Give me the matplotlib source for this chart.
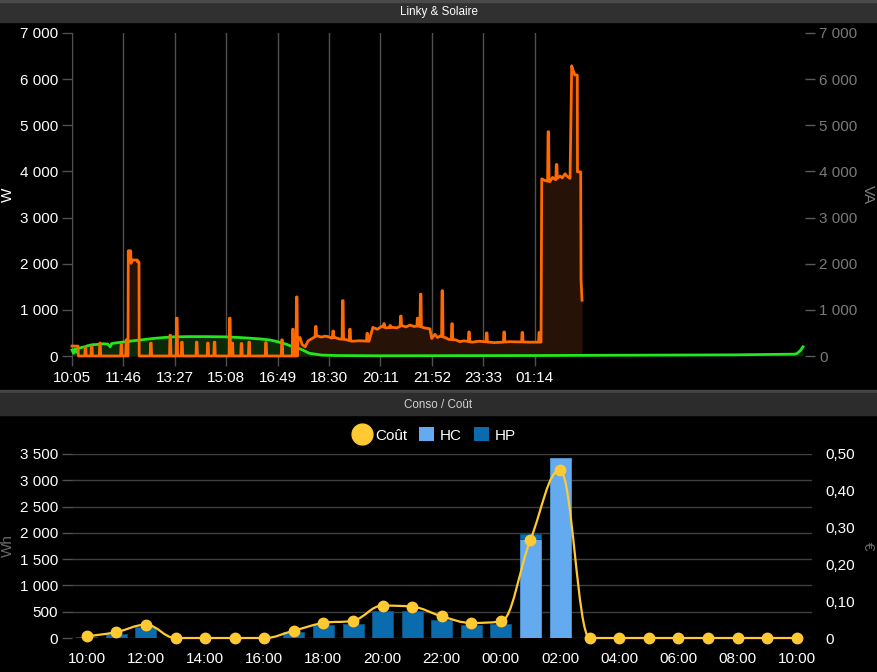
import numpy as np
import matplotlib
matplotlib.use('Agg')
import matplotlib.pyplot as plt
from matplotlib.path import Path
from matplotlib.patches import PathPatch, Rectangle, Patch
from matplotlib.lines import Line2D

plt.rcParams['font.family'] = ['Liberation Sans', 'DejaVu Sans']

# ---------------- Linky & Solaire (minutes after 10:05) ----------------
conso_t = [0, 12, 12.5, 110, 110.5, 115.3, 116, 119, 128.3, 128.5,
           131.6, 132, 443, 444, 448, 452, 458, 464, 471.5, 481,
           490, 497, 503, 510, 517, 525, 536, 550, 565, 583.5,
           591, 600, 608, 617, 630, 638, 648, 656, 664, 672,
           680, 692, 703, 706.7, 713, 718, 723, 733, 740, 754,
           762, 770, 786, 800, 830, 860, 900, 921.4, 922.8, 930,
           939, 944, 950, 959, 963, 968.6, 972, 978.4, 981.7, 984,
           988, 992.7, 993, 999.4, 1000, 1002]
conso_w = [215, 215, 0, 0, 2280, 2280, 2010, 2080, 2080, 2040,
           2040, 0, 0, 380, 400, 250, 200, 330, 380, 440,
           410, 430, 420, 390, 400, 370, 360, 320, 330, 320,
           620, 580, 640, 610, 620, 610, 660, 630, 670, 640,
           650, 610, 590, 380, 470, 400, 430, 400, 360, 350,
           310, 330, 300, 320, 290, 310, 300, 300, 3840, 3800,
           3780, 3870, 3820, 3900, 3860, 3950, 3900, 3850, 6290, 6200,
           6090, 6090, 3990, 3990, 1650, 1210]

# short peaks on top of the consumption curve
pic_t = [26.5, 38.7, 55, 97, 107, 155, 193, 206, 216, 245, 267, 280, 310, 315,
         333, 348, 381, 412.6, 434, 441.5, 479, 513, 532, 546, 580, 613, 625,
         646, 679, 685, 727.5, 746.6, 780, 814.7, 849, 884.7, 918, 935.8, 952]
pic_w = [180, 215, 280, 250, 350, 280, 450, 820, 300, 300, 280, 300, 820, 280,
         270, 300, 290, 350, 580, 1280, 640, 540, 1200, 580, 490, 700, 660,
         865, 820, 1340, 1415, 700, 520, 500, 520, 510, 510, 4860, 4150]

solaire_t = [0, 3, 5, 8, 10, 15, 20, 26, 30, 40, 50, 60, 70, 75, 78, 90, 107,
             120, 140, 160, 180, 200, 230, 260, 300, 330, 350, 370, 390, 400,
             410, 420, 430, 440, 453, 466, 490, 520, 600, 900, 1300, 1420,
             1425, 1431, 1436]
solaire_w = [130, 60, 150, 80, 160, 170, 190, 200, 220, 245, 250, 265, 260,
             200, 270, 290, 310, 330, 355, 380, 400, 415, 420, 420, 415, 400,
             385, 370, 345, 320, 290, 260, 215, 190, 130, 60, 20, 10, 5, 10,
             25, 40, 60, 120, 200]

top_ticks = ['10:05', '11:46', '13:27', '15:08', '16:49', '18:30', '20:11',
             '21:52', '23:33', '01:14']

# ---------------- Conso / Coût (one value per hour) ----------------
heures = ['10:00', '11:00', '12:00', '13:00', '14:00', '15:00', '16:00',
          '17:00', '18:00', '19:00', '20:00', '21:00', '22:00', '23:00',
          '00:00', '01:00', '02:00', '03:00', '04:00', '05:00', '06:00',
          '07:00', '08:00', '09:00', '10:00']
hc = [0, 0, 0, 0, 0, 0, 0, 0, 0, 0, 0, 0, 0, 0, 0, 1890, 3420,
      0, 0, 0, 0, 0, 0, 0, 0]
hp = [10, 80, 210, 0, 0, 0, 0, 108, 240, 272, 520, 515, 350, 253, 266, 95, 0,
      0, 0, 0, 0, 0, 0, 0, 0]
cout = [0.0046, 0.016, 0.036, 0, 0, 0, 0, 0.020, 0.041, 0.047, 0.088, 0.085,
        0.059, 0.041, 0.045, 0.267, 0.456, 0, 0, 0, 0, 0, 0, 0, 0]

ORANGE = '#ff6a00'
GREEN = '#22e61e'
HC_COL = '#63aaee'
HP_COL = '#0a6bad'
YELLOW = '#ffc933'
GRIDC = '#505050'
W, H = 877, 672


def fx(px):
    return px / W


def fy(py):
    return 1 - py / H


def spline_path(xs, ys, smoothing=1.5):
    # cubic spline the way Highcharts draws it
    n = len(xs)
    lc = [(x, y) for x, y in zip(xs, ys)]
    rc = [(x, y) for x, y in zip(xs, ys)]
    d = smoothing + 1
    for i in range(1, n - 1):
        x, y = xs[i], ys[i]
        x0, y0, x1, y1 = xs[i-1], ys[i-1], xs[i+1], ys[i+1]
        lx = (smoothing*x + x0)/d
        ly = (smoothing*y + y0)/d
        rx = (smoothing*x + x1)/d
        ry = (smoothing*y + y1)/d
        if rx != lx:
            corr = ((ry - ly)*(rx - x))/(rx - lx) + y - ry
            ly += corr
            ry += corr
        if ly > y0 and ly > y:
            ly = max(y0, y); ry = 2*y - ly
        elif ly < y0 and ly < y:
            ly = min(y0, y); ry = 2*y - ly
        if ry > y1 and ry > y:
            ry = max(y1, y); ly = 2*y - ry
        elif ry < y1 and ry < y:
            ry = min(y1, y); ly = 2*y - ry
        lc[i] = (lx, ly)
        rc[i] = (rx, ry)
    verts = [(xs[0], ys[0])]
    codes = [Path.MOVETO]
    for i in range(1, n):
        verts += [rc[i-1], lc[i], (xs[i], ys[i])]
        codes += [Path.CURVE4]*3
    return Path(verts, codes)


fig = plt.figure(figsize=(W/100, H/100), dpi=100, facecolor='black')

# title bars
fig.add_artist(Rectangle((0, fy(22)), 1, 22/H, transform=fig.transFigure,
                         color='#303030', zorder=0))
fig.add_artist(Rectangle((0, fy(1.5)), 1, 1.5/H, transform=fig.transFigure,
                         color='#4a4a4a', zorder=0))
fig.add_artist(Rectangle((0, fy(393)), 1, 3/H, transform=fig.transFigure,
                         color='#454545', zorder=0))
fig.add_artist(Rectangle((0, fy(415)), 1, 22/H, transform=fig.transFigure,
                         color='#2c2c2c', zorder=0))
fig.text(0.5, fy(12), 'Linky & Solaire', color='white', fontsize=8.4,
         ha='center', va='center')
fig.text(0.5, fy(405), 'Conso / Coût', color='#d0d0d0', fontsize=8.4,
         ha='center', va='center')

# ---------------- top chart ----------------
ax1 = fig.add_axes([fx(72), fy(356), fx(733), 323/H])
ax1.set_facecolor('black')
ax1.set_xlim(0, 1440)
ax1.set_ylim(0, 7000)

t_all = list(conso_t)
w_all = list(conso_w)
for t, w in zip(pic_t, pic_w):
    b0 = np.interp(t - 1.4, conso_t, conso_w)
    b1 = np.interp(t + 1.4, conso_t, conso_w)
    t_all += [t - 1.4, t - 0.6, t + 0.6, t + 1.4]
    w_all += [b0, w, w, b1]
order = np.argsort(t_all, kind='stable')
t_all = np.array(t_all)[order]
w_all = np.array(w_all)[order]

ax1.fill_between(t_all, 0, w_all, color='#271207', lw=0, zorder=1)
ax1.fill_between(solaire_t, 0, solaire_w, color='#0a2a0a', lw=0, zorder=2)
ax1.plot(solaire_t, solaire_w, color=GREEN, lw=2.0, zorder=3, clip_on=False)
ax1.plot(t_all, w_all, color=ORANGE, lw=2.0, zorder=4, clip_on=False)

ax1.set_xticks(np.arange(len(top_ticks)) * 101)
ax1.set_xticklabels(top_ticks)
ax1.grid(axis='x', color=GRIDC, lw=1)
ax1.set_axisbelow(True)
ax1.tick_params(axis='x', colors=GRIDC, length=7.5, width=1, labelcolor='white',
                labelsize=11, pad=3)
ax1.set_yticks(np.arange(0, 7001, 1000))
ax1.set_yticklabels([f'{v:,}'.replace(',', ' ') for v in range(0, 7001, 1000)])
ax1.tick_params(axis='y', colors=GRIDC, length=7, width=1, labelcolor='white',
                labelsize=11, pad=3)
for s in ['top', 'right', 'bottom']:
    ax1.spines[s].set_visible(False)
ax1.spines['left'].set_color(GRIDC)

ax1r = ax1.twinx()
ax1r.set_ylim(0, 7000)
ax1r.set_yticks(np.arange(0, 7001, 1000))
ax1r.set_yticklabels([f'{v:,}'.replace(',', ' ') for v in range(0, 7001, 1000)])
ax1r.tick_params(axis='y', colors='#5a5a5a', length=7, width=1,
                 labelcolor='#7a7a7a', labelsize=11, pad=3)
for s in ax1r.spines.values():
    s.set_visible(False)

fig.text(fx(8), fy(195), 'W', color='white', fontsize=11, rotation=90,
         ha='center', va='center')
fig.text(fx(868), fy(195), 'VA', color='#7a7a7a', fontsize=11, rotation=270,
         ha='center', va='center')

# ---------------- bottom chart ----------------
ax2 = fig.add_axes([fx(72), fy(638), fx(739.5), 184/H])
ax2.set_facecolor('black')
ax2.set_xlim(-0.5, len(heures) - 0.5)
ax2.set_ylim(0, 3500)
x = np.arange(len(heures))
hc_a = np.array(hc)
hp_a = np.array(hp)
m = hc_a > 0
ax2.bar(x[m], hc_a[m], width=0.71, color=HC_COL, edgecolor='#4d8fc9',
        lw=0.7, zorder=2)
m = hp_a > 0
ax2.bar(x[m], hp_a[m], bottom=hc_a[m], width=0.71, color=HP_COL,
        edgecolor='#0b4f80', lw=0.7, zorder=2)
ax2.set_yticks(np.arange(0, 3501, 500))
ax2.set_yticklabels([f'{v:,}'.replace(',', ' ') for v in range(0, 3501, 500)])
ax2.grid(axis='y', color='#3f3f3f', lw=1)
ax2.set_axisbelow(True)
ax2.tick_params(axis='y', colors=GRIDC, length=7, width=1, labelcolor='white',
                labelsize=11, pad=3)
ax2.set_xticks(x[::2])
ax2.set_xticklabels(heures[::2])
ax2.tick_params(axis='x', length=0, labelcolor='white', labelsize=11, pad=10)
for s in ax2.spines.values():
    s.set_visible(False)

ax2r = ax2.twinx()
ax2r.set_ylim(0, 0.5)
ax2r.set_xlim(-0.5, len(heures) - 0.5)
ax2r.set_yticks(np.arange(0, 0.51, 0.1))
ax2r.set_yticklabels(['0'] + [f'{v:.2f}'.replace('.', ',') for v in np.arange(0.1, 0.51, 0.1)])
ax2r.tick_params(axis='y', length=0, labelcolor='white', labelsize=11, pad=10)
for s in ax2r.spines.values():
    s.set_visible(False)
ax2r.add_patch(PathPatch(spline_path(list(x), cout), fill=False,
                         edgecolor=YELLOW, lw=1.6, zorder=3, clip_on=False))
ax2r.plot(x, cout, 'o', color=YELLOW, markersize=7.5, zorder=4, clip_on=False)

fig.text(fx(8), fy(546), 'Wh', color='#6a6a6a', fontsize=11, rotation=90,
         ha='center', va='center')
fig.text(fx(868), fy(546), '€', color='#6a6a6a', fontsize=11, rotation=270,
         ha='center', va='center')

handles = [Line2D([], [], marker='o', ls='none', color=YELLOW, markersize=15),
           Patch(facecolor=HC_COL, edgecolor='none'),
           Patch(facecolor=HP_COL, edgecolor='none')]
fig.legend(handles, ['Coût', 'HC', 'HP'], loc='center',
           bbox_to_anchor=(fx(435), fy(435)), ncol=3, frameon=False,
           fontsize=11, labelcolor='white', handlelength=1.0,
           handleheight=1.0, handletextpad=0.35, columnspacing=0.8)

fig.savefig('out.png', dpi=100, facecolor='black')
